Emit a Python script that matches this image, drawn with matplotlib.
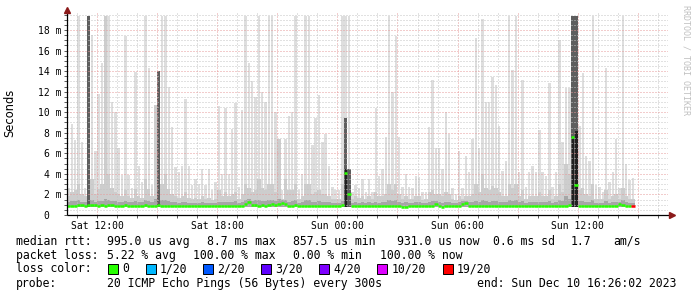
import numpy as np
import matplotlib
matplotlib.use("Agg")
import matplotlib.pyplot as plt
from matplotlib.ticker import MultipleLocator, FixedLocator, FuncFormatter
from matplotlib.patches import Rectangle

# ---------------- data (10-minute bins starting Sat 10:30) ----------------
BIN_HOURS = 1 / 6
smoke_max = [
    2.6, 8.9, 7.3, 19.4, 7.1, 2.6, 19.4, 17.5, 6.2, 11.8,
    14.8, 19.4, 19.4, 11.0, 10.0, 6.5, 3.9, 17.4, 3.9, 2.6,
    13.9, 4.8, 3.2, 19.4, 14.3, 2.9, 10.7, 14.0, 19.4, 19.4,
    12.5, 8.6, 4.7, 4.2, 4.8, 11.3, 4.8, 2.9, 3.5, 3.0,
    4.5, 2.9, 4.5, 2.4, 3.2, 10.6, 4.0, 10.4, 4.0, 8.4,
    10.9, 2.7, 10.2, 19.4, 14.8, 13.0, 11.5, 19.4, 12.0, 11.0,
    19.4, 19.4, 10.0, 7.4, 2.4, 7.4, 9.6, 10.0, 19.4, 2.4,
    4.0, 19.4, 19.4, 6.8, 9.4, 11.7, 7.1, 7.9, 4.8, 2.7,
    2.4, 2.4, 19.4, 19.4, 19.4, 2.2, 2.9, 2.6, 3.5, 2.2,
    3.5, 2.2, 10.4, 3.8, 4.5, 7.6, 19.4, 12.0, 17.4, 7.6,
    2.7, 4.0, 2.7, 2.6, 3.8, 3.7, 2.2, 2.2, 8.6, 13.1,
    6.5, 6.5, 4.5, 10.0, 7.9, 2.6, 2.0, 6.2, 2.6, 5.7,
    4.2, 7.4, 17.2, 6.5, 19.1, 11.0, 11.0, 13.4, 12.6, 8.7,
    4.3, 5.3, 19.4, 14.1, 19.4, 4.2, 13.1, 2.7, 4.2, 4.8,
    4.2, 8.3, 4.2, 3.8, 12.8, 2.7, 4.2, 17.0, 7.1, 12.4,
    12.4, 19.4, 19.4, 8.7, 13.8, 5.7, 5.3, 19.4, 2.9, 2.7,
    2.2, 14.3, 3.2, 4.2, 7.4, 2.6, 19.4, 5.0, 3.4, 3.6,
]
smoke_mid = [
    1.8, 2.2, 2.4, 3.0, 2.0, 1.8, 16.7, 3.5, 2.0, 2.5,
    3.0, 19.4, 4.0, 2.6, 2.2, 2.0, 1.8, 2.4, 1.8, 1.7,
    2.5, 1.8, 1.7, 3.5, 2.5, 1.8, 10.7, 14.0, 3.0, 4.0,
    2.5, 2.0, 1.8, 1.7, 1.8, 2.2, 1.7, 1.6, 1.7, 1.6,
    1.8, 1.6, 1.7, 1.5, 1.6, 2.4, 1.8, 2.2, 1.8, 2.0,
    2.2, 1.6, 2.0, 3.0, 2.6, 2.2, 2.4, 3.5, 2.6, 2.4,
    3.0, 3.0, 2.2, 7.4, 1.6, 3.5, 2.4, 2.4, 3.0, 1.6,
    1.8, 3.0, 3.0, 2.0, 2.2, 2.4, 2.0, 2.0, 1.8, 1.6,
    1.6, 1.6, 3.0, 9.4, 4.5, 1.6, 1.8, 1.7, 1.8, 1.6,
    1.8, 1.6, 2.2, 1.8, 1.8, 2.0, 3.0, 2.4, 3.0, 2.0,
    1.6, 1.8, 1.6, 1.6, 1.8, 1.8, 1.5, 1.6, 2.2, 2.4,
    2.0, 2.0, 1.8, 2.2, 2.0, 1.6, 1.5, 1.8, 1.6, 1.8,
    1.8, 2.0, 3.0, 2.2, 4.0, 2.6, 2.4, 2.8, 2.6, 2.2,
    1.8, 1.8, 3.0, 2.6, 3.0, 1.8, 2.4, 1.6, 1.8, 1.8,
    1.8, 2.2, 1.8, 1.8, 2.4, 1.6, 1.8, 3.0, 2.2, 5.0,
    4.0, 19.4, 19.4, 2.4, 2.6, 2.0, 1.8, 3.0, 1.6, 1.6,
    1.6, 2.4, 1.6, 1.8, 2.0, 1.6, 2.6, 1.8, 1.6, 1.6,
]
smoke_low = [
    1.3, 1.4, 1.4, 1.5, 1.3, 1.3, 1.6, 1.5, 1.3, 1.4,
    1.4, 1.6, 1.5, 1.4, 1.4, 1.3, 1.3, 1.4, 1.3, 1.3,
    1.4, 1.3, 1.3, 1.5, 1.4, 1.3, 1.6, 1.6, 1.5, 1.5,
    1.4, 1.3, 1.3, 1.2, 1.3, 1.3, 1.2, 1.2, 1.2, 1.2,
    1.3, 1.2, 1.2, 1.2, 1.2, 1.3, 1.3, 1.3, 1.3, 1.3,
    1.4, 1.2, 1.3, 1.5, 1.6, 1.4, 1.5, 1.5, 1.4, 1.4,
    1.5, 1.5, 1.4, 1.6, 1.5, 1.5, 1.3, 1.4, 1.5, 1.2,
    1.3, 1.5, 1.5, 1.3, 1.3, 1.4, 1.3, 1.3, 1.3, 1.2,
    1.2, 1.2, 1.4, 2.0, 2.0, 1.2, 1.3, 1.2, 1.3, 1.2,
    1.3, 1.2, 1.3, 1.2, 1.3, 1.3, 1.5, 1.4, 1.5, 1.3,
    1.2, 1.3, 1.2, 1.2, 1.3, 1.3, 1.2, 1.2, 1.3, 1.4,
    1.4, 1.3, 1.2, 1.3, 1.3, 1.2, 1.2, 1.3, 1.4, 1.4,
    1.3, 1.3, 1.4, 1.3, 1.5, 1.4, 1.3, 1.4, 1.4, 1.3,
    1.3, 1.3, 1.5, 1.4, 1.5, 1.3, 1.4, 1.2, 1.3, 1.3,
    1.3, 1.3, 1.3, 1.3, 1.4, 1.2, 1.3, 1.5, 1.4, 1.8,
    1.6, 2.0, 2.0, 1.4, 1.4, 1.3, 1.3, 1.5, 1.2, 1.2,
    1.2, 1.4, 1.2, 1.3, 1.3, 1.3, 1.5, 1.3, 1.2, 1.2,
]
median = [
    0.90, 0.92, 0.90, 0.95, 0.95, 0.92, 0.98, 0.98, 0.95, 0.92,
    0.95, 0.92, 0.95, 0.98, 0.92, 0.90, 0.90, 0.95, 0.92, 0.90,
    0.92, 0.90, 0.90, 0.95, 0.92, 0.90, 0.92, 0.95, 0.92, 0.90,
    0.92, 0.90, 0.90, 0.88, 0.90, 0.90, 0.88, 0.90, 0.90, 0.88,
    0.90, 0.88, 0.90, 0.85, 0.85, 0.88, 0.90, 0.90, 0.92, 0.90,
    0.92, 0.90, 0.92, 1.05, 1.30, 0.95, 1.00, 0.92, 0.95, 0.92,
    0.98, 1.05, 0.95, 1.10, 1.15, 1.05, 0.90, 0.92, 0.95, 0.88,
    0.90, 0.92, 0.92, 0.90, 0.88, 0.88, 0.85, 0.90, 0.88, 0.88,
    0.90, 0.88, 1.00, 4.10, 2.00, 0.85, 0.88, 0.85, 0.88, 0.85,
    0.85, 0.85, 0.88, 0.85, 0.85, 0.88, 0.85, 0.85, 0.88, 0.85,
    0.82, 0.82, 0.85, 0.85, 0.85, 0.88, 0.85, 0.85, 0.85, 0.88,
    1.10, 0.90, 0.82, 0.85, 0.85, 0.85, 0.90, 0.88, 1.10, 1.15,
    0.90, 0.88, 0.85, 0.88, 0.88, 0.85, 0.88, 0.88, 0.88, 0.85,
    0.90, 0.88, 0.88, 0.90, 0.88, 0.90, 0.90, 0.88, 0.90, 0.88,
    0.90, 0.90, 0.88, 0.90, 0.88, 0.90, 0.92, 0.90, 0.92, 0.90,
    0.95, 7.60, 2.90, 0.90, 0.90, 0.90, 0.88, 0.90, 0.90, 0.90,
    0.88, 0.90, 0.88, 0.92, 0.90, 1.05, 1.00, 0.90, 0.90, 0.90,
]
smoke_floor = 0.78
spike_bins = [6, 27, 83, 84, 151, 152]
spike_tops = [19.4, 14.0, 9.4, 4.5, 19.4, 19.4]
core_bins = [83, 151, 152]
core_tops = [4.5, 7.6, 8.2]
last_loss_bin = 169

tick_hours = [1.5, 7.5, 13.5, 19.5, 25.5]
tick_labels = ["Sat 12:00", "Sat 18:00", "Sun 00:00", "Sun 06:00", "Sun 12:00"]
y_ticks = [0, 2, 4, 6, 8, 10, 12, 14, 16, 18]
y_labels = ["0  ", "2 m", "4 m", "6 m", "8 m", "10 m", "12 m", "14 m", "16 m", "18 m"]

legend_rows = [
    [(16, "median rtt:"), (107.3, "995.0 us avg"), (207, "8.7 ms max"),
     (293, "857.5 us min"), (397, "931.0 us now"), (493, "0.6 ms sd"),
     (571, "1.7"), (613.7, "am/s")],
    [(16, "packet loss:"), (107, "5.22 % avg"), (193.3, "100.00 % max"),
     (293, "0.00 % min"), (379.7, "100.00 % now")],
    [(16, "loss color:")],
    [(16, "probe:"), (107.3, "20 ICMP Echo Pings (56 Bytes) every 300s"),
     (477, "end: Sun Dec 10 16:26:02 2023")],
]
loss_labels = ["0", "1/20", "2/20", "3/20", "4/20", "10/20", "19/20"]
loss_colors = ["#26ff00", "#00b8ff", "#0059ff", "#5e00ff", "#7e00ff", "#dd00ff", "#ff0000"]
loss_box_x = [108.3, 145.7, 203, 260.7, 319, 377, 442.7]
loss_text_x = [122.7, 160, 217, 275, 333, 392, 457]

# ---------------- figure ----------------
W, H = 697, 297
fig = plt.figure(figsize=(W / 100, H / 100), dpi=100)
fig.patch.set_facecolor("white")
L, R, T, B = 67, 668, 13, 215
ax = fig.add_axes([L / W, 1 - B / H, (R - L) / W, (B - T) / H])
ax.set_facecolor("white")

n = len(smoke_max)
t = np.arange(n) * BIN_HOURS
ax.bar(t + BIN_HOURS * 0.12, np.array(smoke_max) - smoke_floor, bottom=smoke_floor,
       width=BIN_HOURS * 0.72, align="edge", color="#dedede", linewidth=0, zorder=1)
ax.bar(t, np.array(smoke_mid) - smoke_floor, bottom=smoke_floor, width=BIN_HOURS,
       align="edge", color="#cdcdcd", linewidth=0, zorder=1.1)
ax.bar(t, np.array(smoke_low) - smoke_floor, bottom=smoke_floor, width=BIN_HOURS,
       align="edge", color="#a6a6a6", linewidth=0, zorder=1.2)
sb = np.array(spike_bins) * BIN_HOURS
ax.bar(sb, np.array(spike_tops) - smoke_floor, bottom=smoke_floor,
       width=BIN_HOURS, align="edge", color="#5e5e5e", linewidth=0, zorder=1.3)
cb = np.array(core_bins) * BIN_HOURS
ax.bar(cb + BIN_HOURS * 0.2, np.array(core_tops) - smoke_floor, bottom=smoke_floor,
       width=BIN_HOURS * 0.8, align="edge", color="#202020", linewidth=0, zorder=1.4)

# median line, one segment per bin coloured by loss
med = np.array(median)
colors = [loss_colors[0]] * n
colors[last_loss_bin] = loss_colors[-1]
ax.hlines(med, t, t + BIN_HOURS, colors=colors, linewidth=1.8, zorder=4)

ax.set_xlim(0, (R - L) / 20.03)
ax.set_ylim(0, 19.65)

# grid / ticks
ax.xaxis.set_major_locator(MultipleLocator(3, offset=1.5))
ax.xaxis.set_minor_locator(MultipleLocator(1, offset=0.5))
lab = dict(zip(tick_hours, tick_labels))
ax.xaxis.set_major_formatter(FuncFormatter(lambda v, p: lab.get(round(v, 2), "")))
ax.yaxis.set_major_locator(FixedLocator(y_ticks))
ax.set_yticklabels(y_labels)
ax.yaxis.set_minor_locator(MultipleLocator(0.5))
ax.set_axisbelow(False)
ax.grid(which="major", color="#e79a9a", linestyle=(0, (1, 2)), linewidth=0.72, zorder=2.5)
ax.grid(which="minor", color="#c4c4c4", linestyle=(0, (1, 2)), linewidth=0.72, zorder=2.5)
ax.tick_params(which="both", direction="out", length=2.2, width=0.6, color="#404040",
               labelsize=7, pad=2)
for lb in ax.get_xticklabels() + ax.get_yticklabels():
    lb.set_family("DejaVu Sans Mono")
for s in ax.spines.values():
    s.set_visible(False)

# axes with arrows
ax.plot([0, 1 + 3 / (R - L)], [0, 0], transform=ax.transAxes, color="black",
        linewidth=0.9, clip_on=False, zorder=5, solid_capstyle="butt")
ax.plot([0, 0], [0, 1 + 2 / (B - T)], transform=ax.transAxes, color="black",
        linewidth=0.9, clip_on=False, zorder=5, solid_capstyle="butt")
ax.plot([1 + 4 / (R - L)], [0], marker=">", markersize=4.5, color="#8b1a1a",
        transform=ax.transAxes, clip_on=False, zorder=6)
ax.plot([0], [1 + 3 / (B - T)], marker="^", markersize=4.5, color="#8b1a1a",
        transform=ax.transAxes, clip_on=False, zorder=6)

# y label and watermark
fig.text(10 / W, 1 - 113 / H, "Seconds", rotation=90, ha="center", va="center",
         fontsize=8.3, family="DejaVu Sans")
fig.text(686 / W, 1 - 5 / H, "RRDTOOL / TOBI OETIKER", rotation=270, ha="center",
         va="top", fontsize=6, family="DejaVu Sans Mono", color="#c0c0c0")

# legend text
row_y = [241.3, 255.3, 268.7, 283.7]
for yy, row in zip(row_y, legend_rows):
    for xx, s in row:
        fig.text(xx / W, 1 - yy / H, s, ha="left", va="center", fontsize=8.3,
                 family="DejaVu Sans Mono", color="black")
for bx, tx, lbl, c in zip(loss_box_x, loss_text_x, loss_labels, loss_colors):
    fig.patches.append(Rectangle((bx / W, 1 - 274 / H), 10 / W, 10 / H,
                                 transform=fig.transFigure, facecolor=c,
                                 edgecolor="black", linewidth=0.7))
    fig.text(tx / W, 1 - row_y[2] / H, lbl, ha="left", va="center", fontsize=8.3,
             family="DejaVu Sans Mono", color="black")

fig.savefig("out.png", dpi=100, facecolor="white")
